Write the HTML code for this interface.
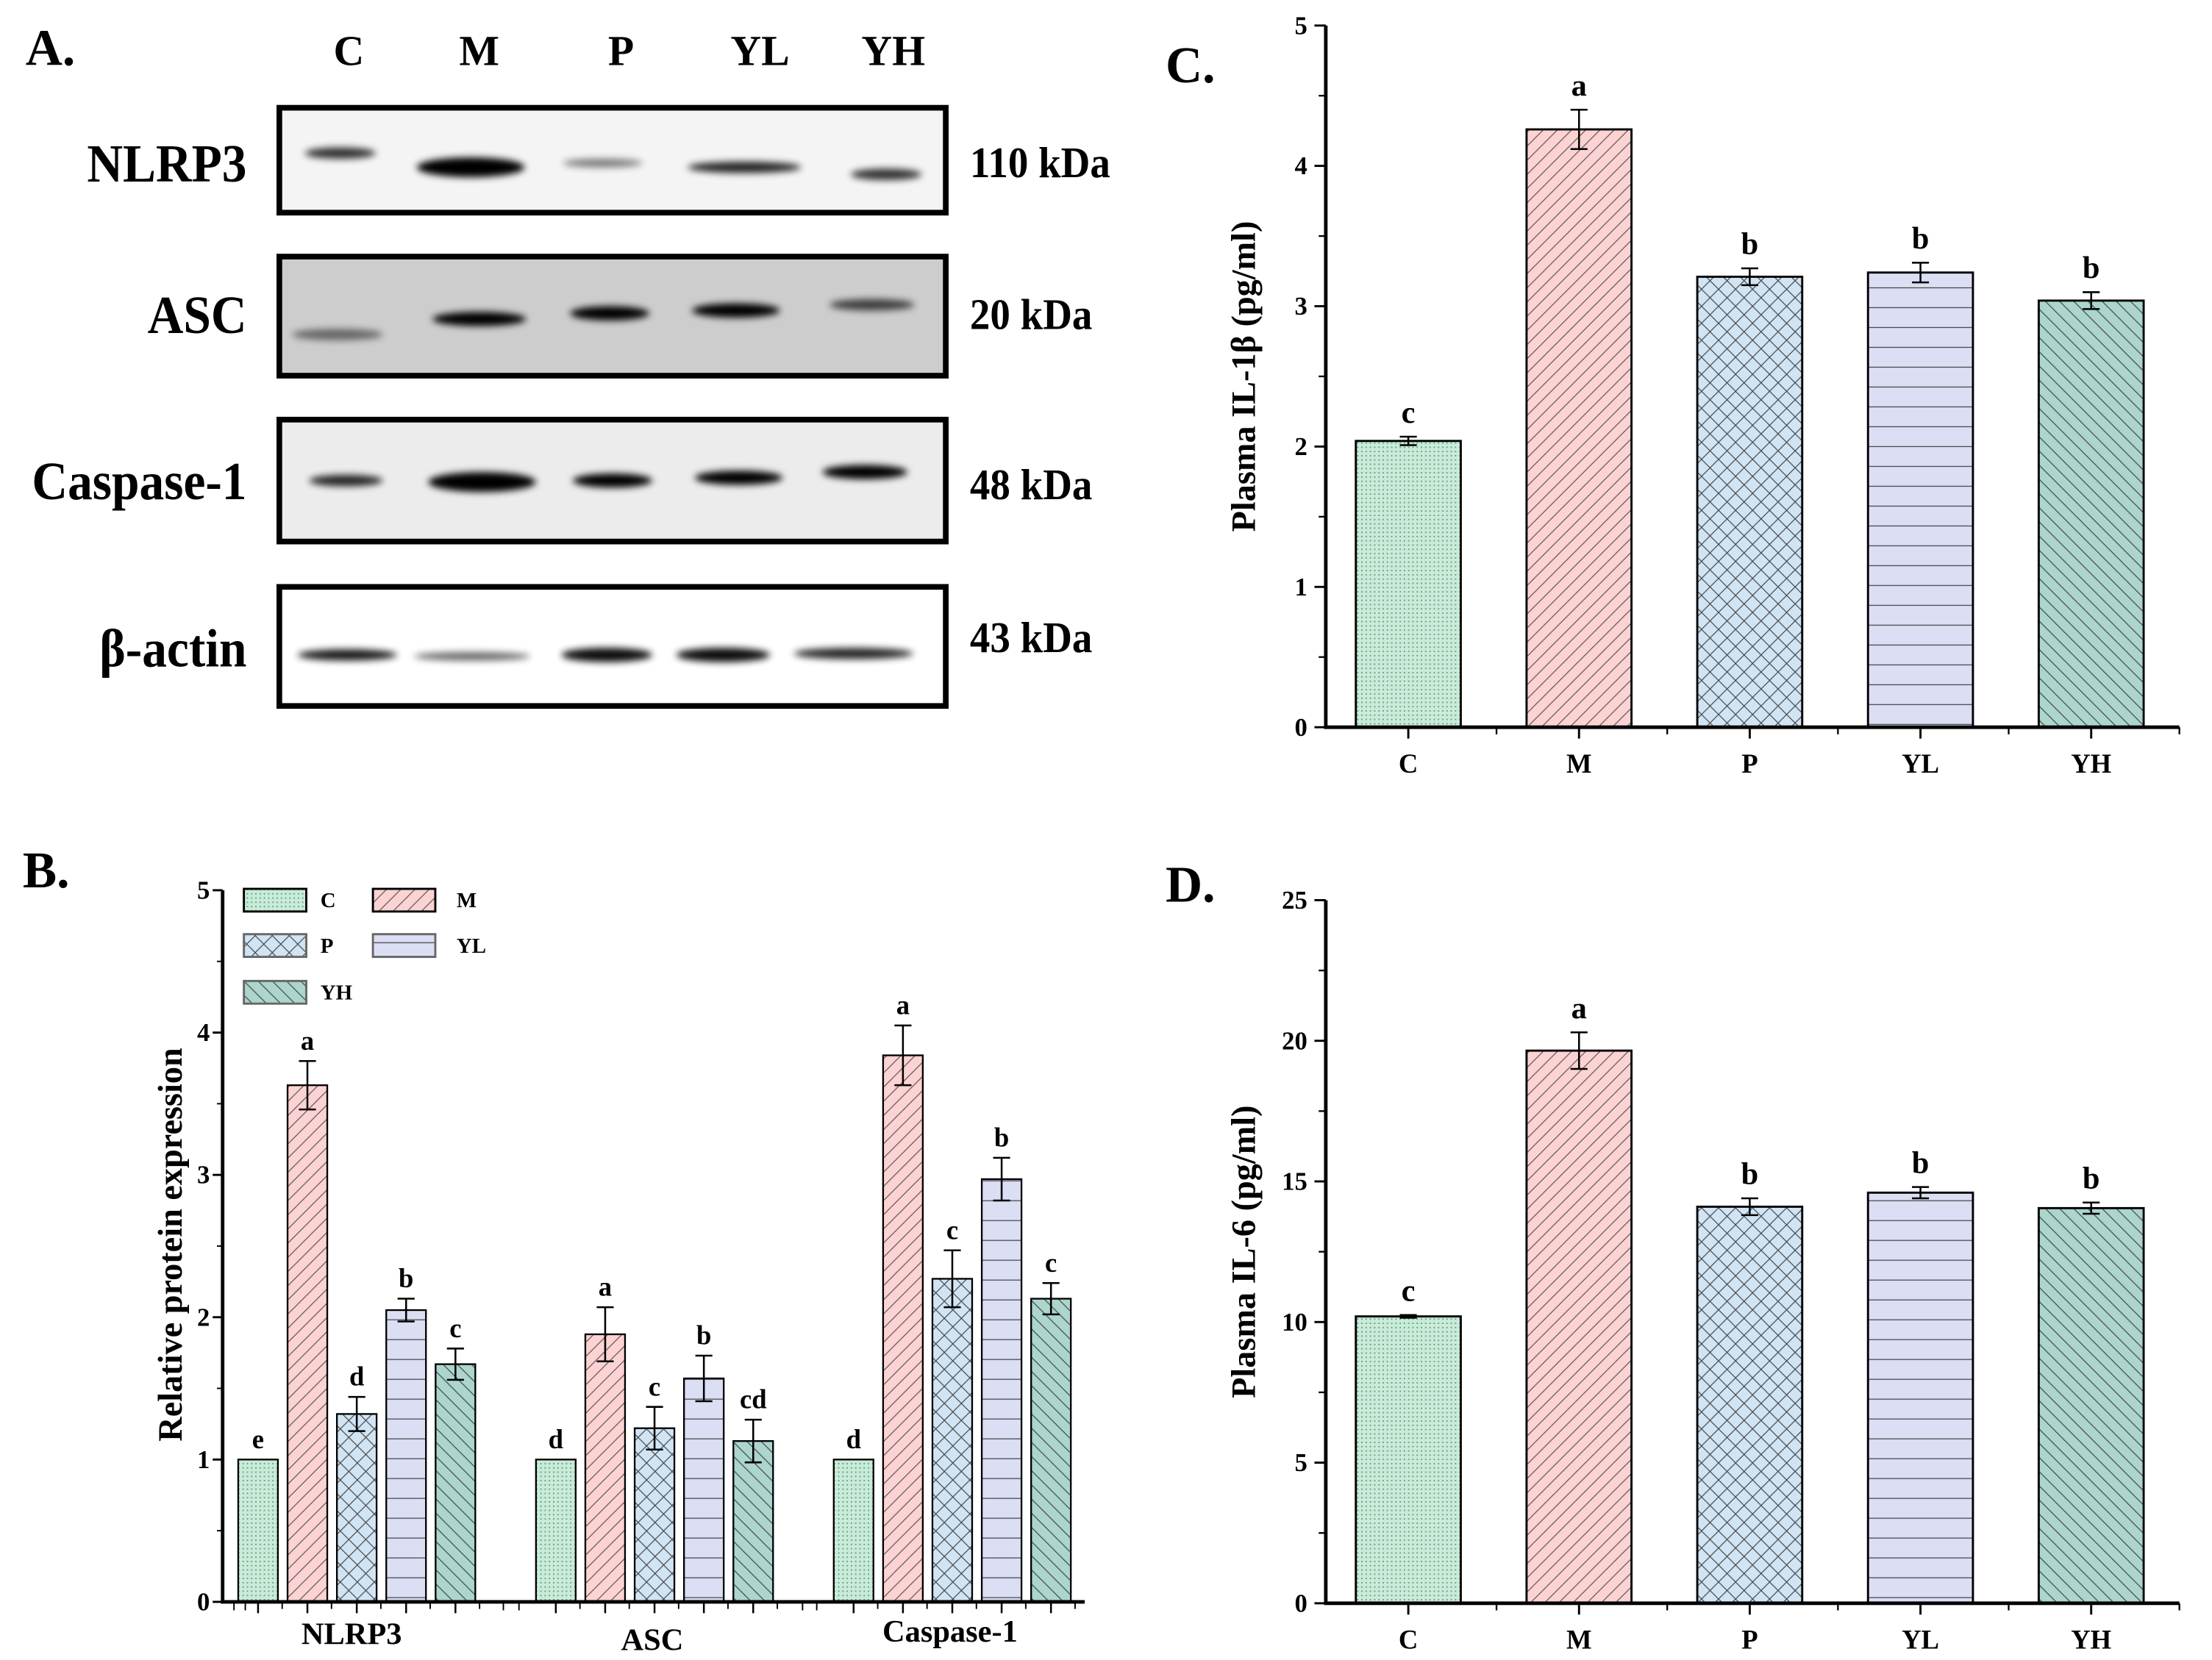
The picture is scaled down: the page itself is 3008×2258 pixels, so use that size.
<!DOCTYPE html>
<html><head><meta charset="utf-8"><style>
html,body{margin:0;padding:0;background:#fff}
svg{display:block}
text{font-family:"Liberation Serif",serif;font-weight:bold;fill:#000}
</style></head><body>
<svg id="fig" width="3008" height="2258" viewBox="0 0 1560 1171" xmlns="http://www.w3.org/2000/svg">
<defs>
<pattern id="pC" width="3" height="3" patternUnits="userSpaceOnUse"><rect width="3" height="3" fill="#c9ebd9"/><rect width="1" height="1" fill="#6aa383"/></pattern>
<pattern id="pM" width="10" height="10" patternUnits="userSpaceOnUse"><rect width="10" height="10" fill="#fcd2d2"/><path d="M0,10 L10,0 M-2,2 L2,-2 M8,12 L12,8" stroke="#555" stroke-width="0.6"/></pattern>
<pattern id="pP" width="12" height="12" patternUnits="userSpaceOnUse"><rect width="12" height="12" fill="#d0e4f4"/><path d="M0,0 L12,12 M0,12 L12,0" stroke="#444" stroke-width="0.6"/></pattern>
<pattern id="pYL" width="10" height="14" patternUnits="userSpaceOnUse"><rect width="10" height="14" fill="#dcdef4"/><path d="M0,7 L10,7" stroke="#444" stroke-width="0.7"/></pattern>
<pattern id="pYH" width="10" height="10" patternUnits="userSpaceOnUse"><rect width="10" height="10" fill="#abd5cd"/><path d="M0,0 L10,10 M-2,8 L2,12 M8,-2 L12,2" stroke="#444" stroke-width="0.6"/></pattern>
<filter id="blur" x="-50%" y="-100%" width="200%" height="300%"><feGaussianBlur stdDeviation="2.5"/></filter>
</defs>
<g id="panelA"></g>
<g id="panelB"></g>
<g id="panelC"></g>
<g id="panelD"></g>
</svg>
<script>
const NS="http://www.w3.org/2000/svg";
const groups=["C","M","P","YL","YH"];
const fills=["url(#pC)","url(#pM)","url(#pP)","url(#pYL)","url(#pYH)"];
// Panel B data
const proteins=["NLRP3","ASC","Caspase-1"];
const bNLRP3=[1,3.63,1.32,2.05,1.67];
const bASC=[1,1.88,1.22,1.57,1.13];
const bCasp=[1,3.84,2.27,2.97,2.13];
const eNLRP3=[0,0.17,0.12,0.08,0.11];
const eASC=[0,0.19,0.15,0.16,0.15];
const eCasp=[0,0.21,0.2,0.15,0.11];
const lNLRP3=["e","a","d","b","c"];
const lASC=["d","a","c","b","cd"];
const lCasp=["d","a","c","b","c"];
const bTicks=[0,1,2,3,4,5];
// Panel C data
const il1b=[2.04,4.26,3.21,3.24,3.04];
const il1bErr=[0.03,0.14,0.06,0.07,0.06];
const il1bLetters=["c","a","b","b","b"];
const cTicks=[0,1,2,3,4,5];
// Panel D data
const il6=[10.2,19.65,14.1,14.6,14.05];
const il6Err=[0.05,0.65,0.3,0.2,0.2];
const il6Letters=["c","a","b","b","b"];
const dTicks=[0,5,10,15,20,25];

function el(parent,tag,attrs,txt){const e=document.createElementNS(NS,tag);for(const k in attrs)e.setAttribute(k,attrs[k]);if(txt!==undefined)e.textContent=txt;parent.appendChild(e);return e;}

/* ---------- Panel A ---------- */
const A=document.getElementById('panelA');
let t=el(A,'text',{x:18,y:46,'font-size':36},'A.');

const laneX=[246,338,438,536,630];
groups.forEach((g,i)=>{const tt=el(A,'text',{x:laneX[i],y:46,'font-size':30,'text-anchor':'middle'},g);
});
const rows=[
 {name:"NLRP3",y0:76,y1:150,ly:128,kd:"110 kDa",ky:125,bg:"#f4f4f4",bands:[[240,108,25,4,0.8],[332,118,38,7,1],[425,115,28,3,0.5],[525,118,40,4,0.85],[625,123,25,4,0.8]]},
 {name:"ASC",y0:181,y1:265,ly:235,kd:"20 kDa",ky:232,bg:"#cdcdcd",bands:[[238,236,32,4,0.5],[338,225,33,5,1],[430,221,28,5,1],[519,219,31,5,1],[615,215,30,4,0.7]]},
 {name:"Caspase-1",y0:296,y1:382,ly:352,kd:"48 kDa",ky:352,bg:"#ececec",bands:[[244,339,26,4,0.85],[340,340,38,7,1],[432,339,28,5,1],[521,337,31,5,1],[610,333,30,5,1]]},
 {name:"β-actin",y0:414,y1:498,ly:470,kd:"43 kDa",ky:460,bg:"#ffffff",bands:[[245,462,35,4,0.9],[333,463,41,3,0.6],[428,462,32,5,0.95],[510,462,33,5,0.95],[602,461,42,4,0.85]]}
];
rows.forEach(r=>{
 const key=r.name.replace('β-','beta-').toLowerCase();
 const g=el(A,'g',{});
 el(g,'rect',{x:197,y:r.y0,width:470,height:r.y1-r.y0,fill:r.bg,stroke:'#000','stroke-width':4});
 r.bands.forEach(b=>{el(g,'ellipse',{cx:b[0],cy:b[1],rx:b[2],ry:b[3],fill:'#000',opacity:b[4],filter:'url(#blur)'});});
 const lt=el(A,'text',{x:0,y:0,'font-size':38,'text-anchor':'end',transform:`translate(174,${r.ly}) scale(0.92,1)`},r.name);
 
 const kt=el(A,'text',{x:0,y:0,'font-size':31,transform:`translate(684,${r.ky}) scale(0.92,1)`},r.kd);
 
});

/* ---------- generic bar chart ---------- */
function errBar(p,cx,top,bot,w){el(p,'path',{d:`M${cx},${top}V${bot}M${cx-w},${top}H${cx+w}M${cx-w},${bot}H${cx+w}`,stroke:'#000','stroke-width':1.3,fill:'none'});}

function simpleChart(id,vals,errs,letters,ticks,cfg){
 const P=document.getElementById(id);
 const ys=v=>cfg.y0-(v-ticks[0])/(ticks[ticks.length-1]-ticks[0])*(cfg.y0-cfg.y1);
 const pl=el(P,'text',{x:cfg.lx,y:cfg.ly,'font-size':36},cfg.label);
 
 const step=(cfg.xr-cfg.x0)/5;
 vals.forEach((v,i)=>{
  const cx=cfg.x0+step*(i+0.5)-2;
  const r=el(P,'rect',{x:cx-37,y:ys(v),width:74,height:ys(0)-ys(v),fill:fills[i],stroke:'#000','stroke-width':1.5});
  
  errBar(P,cx,ys(v+errs[i]),ys(v-errs[i]),6);
  const lt=el(P,'text',{x:cx,y:ys(v+errs[i])-10,'font-size':22,'text-anchor':'middle'},letters[i]);
  
  const xt=el(P,'text',{x:cx,y:cfg.y0+32,'font-size':19,'text-anchor':'middle'},groups[i]);
  
  el(P,'line',{x1:cx,x2:cx,y1:cfg.y0,y2:cfg.y0+8,stroke:'#000','stroke-width':1.5});
  el(P,'line',{x1:cfg.x0+step*(i+1),x2:cfg.x0+step*(i+1),y1:cfg.y0,y2:cfg.y0+5,stroke:'#000','stroke-width':1.2});
 });
 const ax=el(P,'path',{d:`M${cfg.x0},${cfg.y1}V${cfg.y0}H${cfg.xr}`,stroke:'#000','stroke-width':2.5,fill:'none'});
 
 ticks.forEach((tv,k)=>{
  const y=ys(tv);
  el(P,'line',{x1:cfg.x0-8,x2:cfg.x0,y1:y,y2:y,stroke:'#000','stroke-width':1.5});
  if(k<ticks.length-1){const ym=ys((tv+ticks[k+1])/2);el(P,'line',{x1:cfg.x0-5,x2:cfg.x0,y1:ym,y2:ym,stroke:'#000','stroke-width':1.2});}
  const tl=el(P,'text',{x:cfg.x0-13,y:y+6,'font-size':18,'text-anchor':'end'},tv);
  
 });
 const yt=el(P,'text',{x:0,y:0,'font-size':24,'text-anchor':'middle',transform:`translate(${cfg.x0-50},${(cfg.y0+cfg.y1)/2}) rotate(-90)`},cfg.ytitle);
 
}
simpleChart('panelC',il1b,il1bErr,il1bLetters,cTicks,{x0:935,xr:1537,y0:513,y1:18,lx:822,ly:58,label:'C.',ytitle:'Plasma IL-1β (pg/ml)'});
simpleChart('panelD',il6,il6Err,il6Letters,dTicks,{x0:935,xr:1537,y0:1131,y1:635,lx:822,ly:636,label:'D.',ytitle:'Plasma IL-6 (pg/ml)'});

/* ---------- Panel B ---------- */
(function(){
 const P=document.getElementById('panelB');
 const x0=157,xr=765,y0=1130,y1=628;
 const ys=v=>y0-v/5*(y0-y1);
 const pl=el(P,'text',{x:16,y:626,'font-size':36},'B.');
 
 const data=[bNLRP3,bASC,bCasp],errs=[eNLRP3,eASC,eCasp],lets=[lNLRP3,lASC,lCasp];
 const groupStart=[168,378,588];
 data.forEach((arr,gi)=>{
  arr.forEach((v,i)=>{
   const x=groupStart[gi]+i*34.8,cx=x+14;
   const r=el(P,'rect',{x:x,y:ys(v),width:28,height:ys(0)-ys(v),fill:fills[i],stroke:'#000','stroke-width':1.2});
   
   if(errs[gi][i]>0)errBar(P,cx,ys(v+errs[gi][i]),ys(v-errs[gi][i]),6);
   const lt=el(P,'text',{x:cx,y:ys(v+errs[gi][i])-8,'font-size':19,'text-anchor':'middle'},lets[gi][i]);
   
   el(P,'line',{x1:cx,x2:cx,y1:y0,y2:y0+8,stroke:'#000','stroke-width':1.3});
   el(P,'line',{x1:x+31,x2:x+31,y1:y0,y2:y0+5,stroke:'#000','stroke-width':1});
  });
  const gl=el(P,'text',{x:[248,460,670][gi],y:[1160,1164,1158][gi],'font-size':22,'text-anchor':'middle'},proteins[gi]);
  
 });
 [x0+8,x0+16,355,366,566,576].forEach(x=>el(P,'line',{x1:x,x2:x,y1:y0,y2:y0+6,stroke:'#000','stroke-width':1}));
 const ax=el(P,'path',{d:`M${x0},${y1}V${y0}H${xr}`,stroke:'#000','stroke-width':2.5,fill:'none'});
 
 bTicks.forEach((tv,k)=>{
  const y=ys(tv);
  el(P,'line',{x1:x0-7,x2:x0,y1:y,y2:y,stroke:'#000','stroke-width':1.5});
  if(k<bTicks.length-1){const ym=ys(tv+0.5);el(P,'line',{x1:x0-4,x2:x0,y1:ym,y2:ym,stroke:'#000','stroke-width':1});}
  const tl=el(P,'text',{x:x0-9,y:y+6,'font-size':18,'text-anchor':'end'},tv);
  
 });
 const yt=el(P,'text',{x:0,y:0,'font-size':24,'text-anchor':'middle',transform:`translate(128,878) rotate(-90)`},'Relative protein expression');
 
 const leg=el(P,'g',{});
 const lp=[[172,627],[263,627],[172,659],[263,659],[172,692]];
 groups.forEach((g,i)=>{
  const e=el(leg,'g',{});
  el(e,'rect',{x:lp[i][0],y:lp[i][1],width:44,height:16,fill:fills[i],stroke:i<2?'#000':'#666','stroke-width':1.5});
  el(e,'text',{x:lp[i][0]+(i%2? 59:54),y:lp[i][1]+13,'font-size':15},g);
 });
})();
</script>
</body></html>
